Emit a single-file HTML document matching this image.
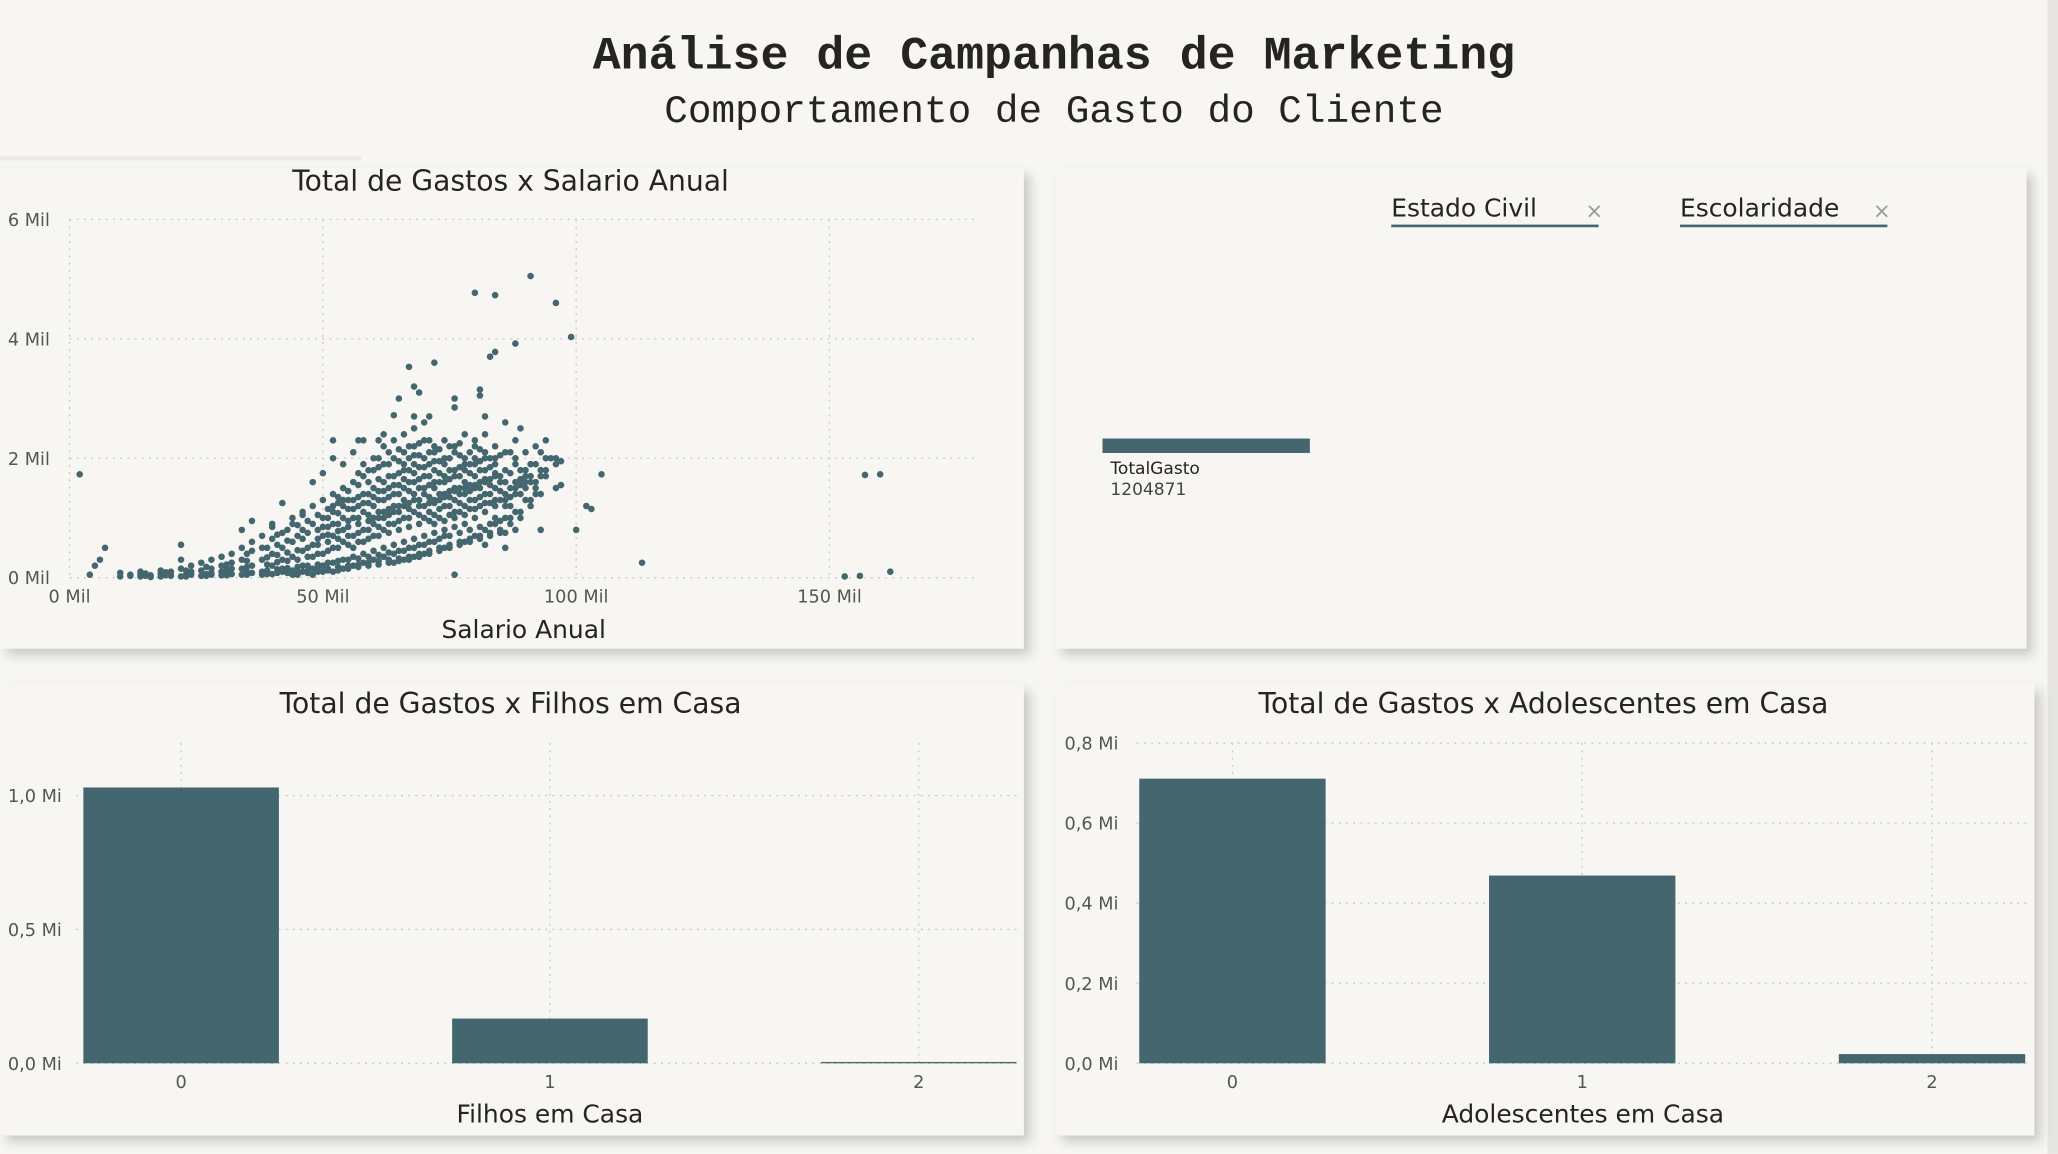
<!DOCTYPE html>
<html><head><meta charset="utf-8"><style>
html,body{margin:0;padding:0;background:#f7f6f2;}
svg{display:block;}
text{font-family:"DejaVu Sans","Liberation Sans",sans-serif;}
</style></head><body>
<svg id="root" width="2058" height="1154" viewBox="0 0 1568 879" xmlns="http://www.w3.org/2000/svg">
<defs>
<filter id="sh" x="-5%" y="-5%" width="112%" height="115%"><feDropShadow dx="5" dy="5" stdDeviation="4" flood-color="#000" flood-opacity="0.18"/></filter>
</defs>
<rect width="1568" height="879" fill="#f7f6f2"/>
<rect x="1560" y="0" width="8" height="879" fill="#e6e5e1"/>
<rect x="0" y="119" width="275" height="3" fill="#ebeae6"/>
<text x="803" y="52" text-anchor="middle" font-weight="bold" font-size="35.5" fill="#252423" style="font-family:'Liberation Mono',monospace">Análise de Campanhas de Marketing</text>
<text x="803" y="93" text-anchor="middle" font-size="30" fill="#252423" style="font-family:'Liberation Mono',monospace">Comportamento de Gasto do Cliente</text>

<rect x="0" y="128" width="780" height="366" fill="#f7f6f2" filter="url(#sh)"/>
<rect x="804" y="128" width="740" height="366" fill="#f7f6f2" filter="url(#sh)"/>
<rect x="0" y="521" width="780" height="344" fill="#f7f6f2" filter="url(#sh)"/>
<rect x="804" y="521" width="746" height="344" fill="#f7f6f2" filter="url(#sh)"/>

<g id="scatter"></g>
<g id="filhos"></g>
<g id="adol"></g>

<text x="1060" y="165" font-size="19" fill="#252423">Estado Civil</text>
<rect x="1060" y="171" width="158" height="2" fill="#3f6770"/>
<text x="1208" y="166" font-size="16" fill="#999">×</text>
<text x="1280" y="165" font-size="19" fill="#252423">Escolaridade</text>
<rect x="1280" y="171" width="158" height="2" fill="#3f6770"/>
<text x="1427" y="166" font-size="16" fill="#999">×</text>
<rect x="840" y="334" width="158" height="11" fill="#44666f"/>
<text x="846" y="361" font-size="13" fill="#252423">TotalGasto</text>
<text x="846" y="377" font-size="13" fill="#444">1204871</text>
</svg>
<script>
const NS="http://www.w3.org/2000/svg";
const scatterXTicks=[0,50,100,150];
const scatterXTickLabels=["0 Mil","50 Mil","100 Mil","150 Mil"];
const scatterYTicks=[0,2,4,6];
const scatterYTickLabels=["0 Mil","2 Mil","4 Mil","6 Mil"];
const salCols=[10,12,14,16,18,20,22,24,26,28,30,32,34,36,38,40,42,44,46,48,50,52,54,56,58,60,62,64,66,68,70,72,74,76,78,80,82,84,86,88,90,92,94,96];
const gastoByCol=[[0.02,0.08],[0.03,0.05],[0.02,0.06,0.1],[0.01,0.04],[0.02,0.07,0.12],[0.03,0.1,0.05],[0.02,0.15,0.3,0.55],[0.05,0.2,0.1],[0.03,0.25,0.12],[0.05,0.3,0.15,0.08],[0.04,0.2,0.35,0.1],[0.06,0.4,0.15,0.25],[0.05,0.3,0.8,0.5,0.15],[0.08,0.45,0.95,0.2,0.6],[0.1,0.3,0.7,0.5,0.05],[0.06,0.4,0.9,0.2,0.65,0.85],[0.1,0.5,1.25,0.3,0.75,0.15],[0.12,0.6,0.9,0.35,1.0,0.05],[0.2,0.8,1.1,0.45,0.65,0.1,1.05],[0.15,0.55,1.2,0.9,0.35,1.6,0.05],[0.2,0.7,1.3,1.0,0.4,1.75,0.1,0.85],[0.25,0.9,1.4,1.1,0.5,2.0,0.1,0.7,1.2],[0.3,0.8,1.5,1.2,0.6,1.9,0.15,1.0,1.3],[0.35,1.0,1.6,1.3,0.7,2.1,0.2,0.5,1.15],[0.4,1.1,1.7,1.4,0.8,1.9,0.25,0.6,1.25,2.3],[0.45,1.2,1.8,1.5,0.9,2.0,0.3,0.7,1.0,1.35],[0.5,1.3,1.9,1.6,1.0,2.2,0.35,0.8,1.1,1.45,2.4],[0.55,1.4,2.0,1.7,1.1,2.3,0.4,0.9,1.2,1.55,0.25],[0.6,1.5,2.1,1.8,1.2,2.4,0.45,1.0,1.3,1.65,0.3,1.9],[0.65,1.6,2.2,1.9,1.3,2.5,0.5,1.1,1.4,1.75,0.35,2.05],[0.7,1.7,2.3,2.0,1.4,2.6,0.55,1.2,1.5,1.85,0.4,1.0],[0.75,1.8,2.2,2.1,1.5,1.3,0.6,1.25,1.6,1.95,0.9,1.05],[0.8,1.9,2.3,1.6,1.4,1.2,0.7,1.35,1.7,2.0,0.95,0.5],[0.85,1.7,2.2,1.5,1.3,1.0,0.05,1.45,1.8,2.1,1.1],[0.9,1.8,2.4,1.6,1.4,1.2,0.6,1.5,1.9,2.0,1.05],[1.0,1.9,2.3,1.7,1.5,1.3,0.7,1.55,2.0,2.2,1.15],[1.1,2.0,2.4,1.8,1.6,1.4,0.8,1.65,2.1,1.25,0.55],[1.2,1.9,2.2,1.7,1.5,1.3,0.9,1.75,2.0,1.0],[1.3,1.8,2.1,1.6,1.4,1.2,1.0,0.75,0.5],[1.4,1.9,2.0,1.6,1.5,1.1,0.8,2.3],[1.5,1.8,2.1,1.7,1.3,1.6],[1.6,1.9,2.2,1.4,1.5],[1.7,2.0,2.3,1.8],[2.0,1.5,1.9]];
const salCols2=[15,19,23,27,31,35,39,41,43,45,47,49,51,53,55,57,59,61,63,65,67,69,71,73,75,77,79,81,83,85,87,89,91,93];
const gastoByCol2=[[0.03,0.07],[0.04,0.09],[0.05,0.12,0.02],[0.06,0.18,0.03],[0.08,0.22,0.04,0.14],[0.1,0.28,0.05,0.18,0.4],[0.12,0.34,0.06,0.22,0.5],[0.14,0.38,0.08,0.26,0.55,0.72],[0.16,0.42,0.08,0.28,0.62,0.8],[0.18,0.46,0.1,0.3,0.7,0.88,0.05],[0.2,0.5,0.12,0.35,0.75,0.95,0.08],[0.22,0.55,0.14,0.4,0.8,1.05,0.1,0.65],[0.25,0.6,0.15,0.45,0.85,1.15,0.12,0.72,1.0],[0.28,0.65,0.18,0.5,0.9,1.25,0.12,0.78,1.08,1.35],[0.3,0.7,0.2,0.55,0.95,1.3,0.15,0.85,1.15,1.45],[0.32,0.75,0.22,0.6,1.0,1.35,0.18,0.9,1.2,1.55,1.75],[0.35,0.8,0.25,0.65,1.05,1.4,0.2,0.95,1.25,1.6,1.8],[0.38,0.85,0.28,0.7,1.1,1.45,0.22,1.0,1.3,1.65,1.85,2.0],[0.42,0.9,0.3,0.75,1.15,1.5,0.25,1.05,1.35,1.7,1.9,2.1],[0.45,0.95,0.32,0.8,1.2,1.55,0.28,1.1,1.4,1.75,1.95,2.15],[0.5,1.0,0.35,0.85,1.25,1.6,0.3,1.15,1.45,1.8,2.0,2.2],[0.55,1.05,0.4,0.9,1.3,1.65,0.35,1.2,1.5,1.85,2.05,2.25],[0.6,1.1,0.45,0.95,1.35,1.7,0.4,1.25,1.55,1.9,2.1,2.3],[0.65,1.15,0.5,1.0,1.4,1.75,0.45,1.3,1.6,1.95,2.15],[0.7,1.2,0.55,1.05,1.45,1.8,0.5,1.35,1.65,2.0,2.2],[0.75,1.25,0.6,1.1,1.5,1.85,0.55,1.4,1.7,2.05,2.25],[0.8,1.3,0.65,1.15,1.55,1.9,0.6,1.45,1.75,2.1],[0.85,1.35,0.7,1.2,1.6,1.95,0.65,1.5,1.8,2.15],[0.9,1.4,0.75,1.25,1.65,2.0,0.7,1.55,1.85],[0.95,1.45,0.8,1.3,1.7,2.05,0.75,1.6],[1.0,1.5,0.9,1.35,1.75,2.1,1.2],[1.1,1.55,1.0,1.4,1.8,1.65],[1.2,1.6,1.3,1.7,1.9],[1.4,1.7,1.8,2.1]];
const outSal=[2,4,5,6,7,160,157,153,156,162,113,105,102,103,99,96,91,84,80,88,84,83,67,72,68,69,65,76,76,81,81,64,68,71,82,86,89,57,52,61,95,97,100,97,93];
const outGasto=[1.73,0.05,0.2,0.3,0.5,1.73,1.72,0.02,0.03,0.1,0.25,1.73,1.2,1.15,4.03,4.6,5.05,4.73,4.77,3.92,3.78,3.7,3.53,3.6,3.2,3.1,3.0,3.0,2.85,3.05,3.15,2.72,2.7,2.7,2.7,2.6,2.5,2.3,2.3,2.3,2.0,1.95,0.8,1.55,0.8];

const filhosCats=["0","1","2"];
const filhosVals=[1.03,0.167,0.005];
const filhosTicks=[0,0.5,1.0];
const filhosTickLabels=["0,0 Mi","0,5 Mi","1,0 Mi"];
const adolCats=["0","1","2"];
const adolVals=[0.711,0.469,0.023];
const adolTicks=[0,0.2,0.4,0.6,0.8];
const adolTickLabels=["0,0 Mi","0,2 Mi","0,4 Mi","0,6 Mi","0,8 Mi"];

function mk(tag,attrs,parent){const e=document.createElementNS(NS,tag);for(const k in attrs)e.setAttribute(k,attrs[k]);parent.appendChild(e);return e;}

(function(){
 const g=document.getElementById('scatter');
 const x0=53,pxX=3.86,y0=440,pxY=45.5;
 const sx=v=>x0+v*pxX, sy=v=>y0-v*pxY;
 const t=mk('text',{x:389,y:145,'text-anchor':'middle','font-size':21.5,fill:'#252423'},g);t.textContent='Total de Gastos x Salario Anual';
 
 
 scatterXTicks.forEach((v,i)=>{
  mk('line',{x1:sx(v),x2:sx(v),y1:167,y2:440,stroke:'#c8c8c8','stroke-dasharray':'1.5 4'},g);
  const l=mk('text',{x:sx(v),y:459,'text-anchor':'middle','font-size':13.5,fill:'#555'},g);l.textContent=scatterXTickLabels[i];
  
  
 });
 scatterYTicks.forEach((v,i)=>{
  mk('line',{x1:53,x2:745,y1:sy(v),y2:sy(v),stroke:'#c8c8c8','stroke-dasharray':'1.5 4'},g);
  const l=mk('text',{x:6,y:sy(v)+5,'font-size':13.5,fill:'#555'},g);l.textContent=scatterYTickLabels[i];
  
  
 });
 const a=mk('text',{x:399,y:486,'text-anchor':'middle','font-size':19,fill:'#252423'},g);a.textContent='Salario Anual';
 
 
 const pts=[];
 salCols.forEach((s,i)=>gastoByCol[i].forEach(v=>pts.push([s,v])));
 salCols2.forEach((s,i)=>gastoByCol2[i].forEach(v=>pts.push([s,v])));
 outSal.forEach((s,i)=>pts.push([s,outGasto[i]]));
 pts.forEach(p=>{
  const c=mk('circle',{cx:sx(p[0]),cy:sy(p[1]),r:2.5,fill:'#44666f'},g);
  
  
 });
})();

function bars(id,title,tx,cats,vals,ticks,labels,x0,x1,centers0,step,bw,pxV,axisTitle,ax){
 const g=document.getElementById(id);
 const y0=810, sy=v=>y0-v*pxV;
 const t=mk('text',{x:tx,y:543,'text-anchor':'middle','font-size':21.5,fill:'#252423'},g);t.textContent=title;
 
 
 ticks.forEach((v,i)=>{
  mk('line',{x1:x0,x2:x1,y1:sy(v),y2:sy(v),stroke:'#c8c8c8','stroke-dasharray':'1.5 4'},g);
  const l=mk('text',{x:id==='adol'?811:6,y:sy(v)+5,'font-size':13.5,fill:'#555'},g);l.textContent=labels[i];
  
  
 });
 cats.forEach((c,i)=>{
  const cx=centers0+i*step;
  mk('line',{x1:cx,x2:cx,y1:566,y2:810,stroke:'#c8c8c8','stroke-dasharray':'1.5 4'},g);
 });
 cats.forEach((c,i)=>{
  const cx=centers0+i*step;
  const r=mk('rect',{x:cx-bw/2,y:sy(vals[i]),width:bw,height:Math.max(1,vals[i]*pxV),fill:'#44666f'},g);
  
  
  const l=mk('text',{x:cx,y:829,'text-anchor':'middle','font-size':13.5,fill:'#555'},g);l.textContent=c;
  
  
 });
 const a=mk('text',{x:ax,y:855,'text-anchor':'middle','font-size':19,fill:'#252423'},g);a.textContent=axisTitle;
 
 
}
bars('filhos','Total de Gastos x Filhos em Casa',389,filhosCats,filhosVals,filhosTicks,filhosTickLabels,58,775,138,281,149,204,'Filhos em Casa',419);
bars('adol','Total de Gastos x Adolescentes em Casa',1176,adolCats,adolVals,adolTicks,adolTickLabels,866,1545,939,266.5,142,305,'Adolescentes em Casa',1206);
</script>
</body></html>
